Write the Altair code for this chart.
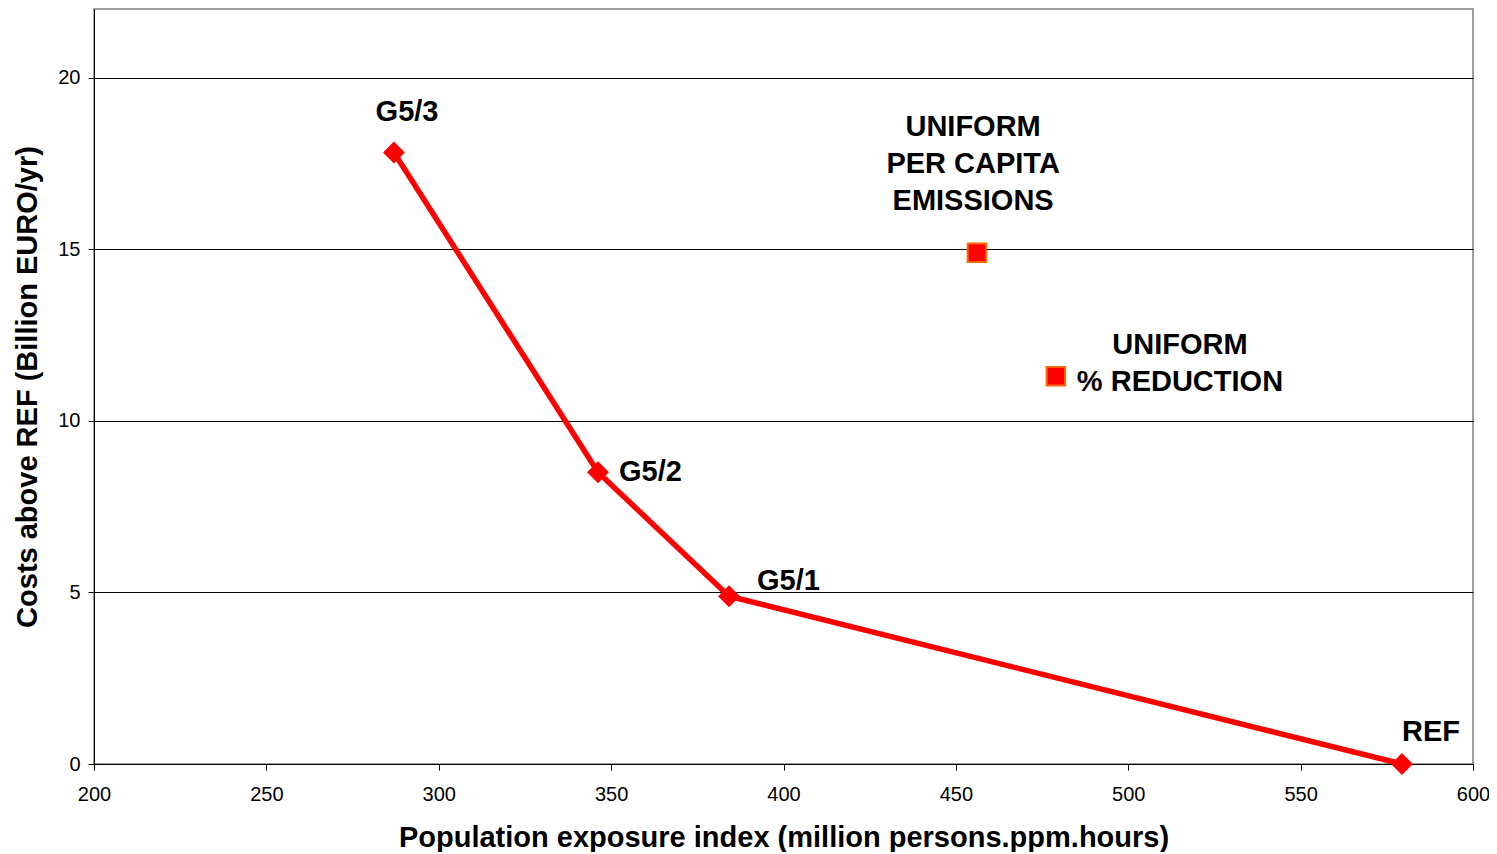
import altair as alt
import pandas as pd

# Data
scenario = ["G5/3", "G5/2", "G5/1", "REF"]
exposure = [287, 346.2, 384.2, 579.4]
cost = [17.82, 8.5, 4.89, 0.0]

uniform_names = ["UNIFORM PER CAPITA EMISSIONS", "UNIFORM % REDUCTION"]
uniform_exposure = [456.1, 479.0]
uniform_cost = [14.9, 11.3]

# label anchor positions (data coordinates)
lab_text = ["G5/3", "G5/2", "G5/1", "REF"]
lab_x = [290.8, 352.3, 392.3, 579.4]
lab_y = [19.01, 8.5, 5.33, 0.93]
lab_align = ["center", "left", "left", "left"]

ann_text = [["UNIFORM", "PER CAPITA", "EMISSIONS"], ["UNIFORM", "% REDUCTION"]]
ann_x = [455.0, 515.0]
ann_y = [18.55, 12.2]

line_df = pd.DataFrame({"scenario": scenario, "x": exposure, "y": cost})
sq_df = pd.DataFrame({"name": uniform_names, "x": uniform_exposure, "y": uniform_cost})
lab_df = pd.DataFrame({"t": lab_text, "x": lab_x, "y": lab_y, "a": lab_align})
ann_df = pd.DataFrame({"t": ann_text, "x": ann_x, "y": ann_y})

FONT = "Liberation Sans"

xscale = alt.Scale(domain=[200, 600], nice=False, zero=False)
yscale = alt.Scale(domain=[0, 22], nice=False)

xaxis = alt.Axis(
    title="Population exposure index (million persons.ppm.hours)",
    values=[200, 250, 300, 350, 400, 450, 500, 550, 600],
    grid=False, domainColor="black", tickColor="black", tickSize=6,
    labelFontSize=20, labelFont=FONT, labelColor="black", labelPadding=14,
    labelFlush=False,
    titleFontSize=29, titleFont=FONT, titleFontWeight="bold", titleColor="black",
    titleY=82, titleBaseline="alphabetic",
)
yaxis = alt.Axis(
    title="Costs above REF (Billion EURO/yr)",
    values=[0, 5, 10, 15, 20],
    grid=True, gridColor="black", gridWidth=1, gridOpacity=1,
    domainColor="black", tickColor="black", tickSize=6,
    labelFontSize=20, labelFont=FONT, labelColor="black", labelPadding=8,
    labelFlush=False,
    titleFontSize=29, titleFont=FONT, titleFontWeight="bold", titleColor="black",
    titleX=-67, titleY=377.5, titleBaseline="middle", titleAngle=-90,
)

base_x = alt.X("x:Q", scale=xscale, axis=xaxis)
base_y = alt.Y("y:Q", scale=yscale, axis=yaxis)

line = alt.Chart(line_df).mark_line(color="#FF0000", strokeWidth=5.5).encode(
    x=base_x, y=base_y, order=alt.Order("x:Q")
)
diamonds = alt.Chart(line_df).mark_point(
    shape="diamond", filled=True, color="#FF0000", size=480, opacity=1
).encode(x="x:Q", y="y:Q")
squares = alt.Chart(sq_df).mark_point(
    shape="square", filled=True, fill="#FF0000", stroke="#FF6600",
    strokeWidth=2, size=340, opacity=1
).encode(x="x:Q", y="y:Q")

labels_center = alt.Chart(lab_df[lab_df.a == "center"]).mark_text(
    font=FONT, fontSize=29, fontWeight="bold", color="black", align="center",
    baseline="middle"
).encode(x="x:Q", y="y:Q", text="t:N")
labels_left = alt.Chart(lab_df[lab_df.a == "left"]).mark_text(
    font=FONT, fontSize=29, fontWeight="bold", color="black", align="left",
    baseline="middle"
).encode(x="x:Q", y="y:Q", text="t:N")
ann = alt.Chart(ann_df).mark_text(
    font=FONT, fontSize=29, fontWeight="bold", color="black", align="center",
    baseline="middle", lineHeight=37
).encode(x="x:Q", y="y:Q", text="t")

chart = alt.layer(line, diamonds, squares, labels_center, labels_left, ann).properties(
    width=1379, height=755,
    autosize=alt.AutoSizeParams(type="none"),
    padding={"left": 86, "top": 1, "right": 16, "bottom": 88},
    background="white",
).configure_view(stroke="#808080", strokeWidth=1.5)

chart.save("out.html", embed_options={"renderer": "svg", "actions": False})
